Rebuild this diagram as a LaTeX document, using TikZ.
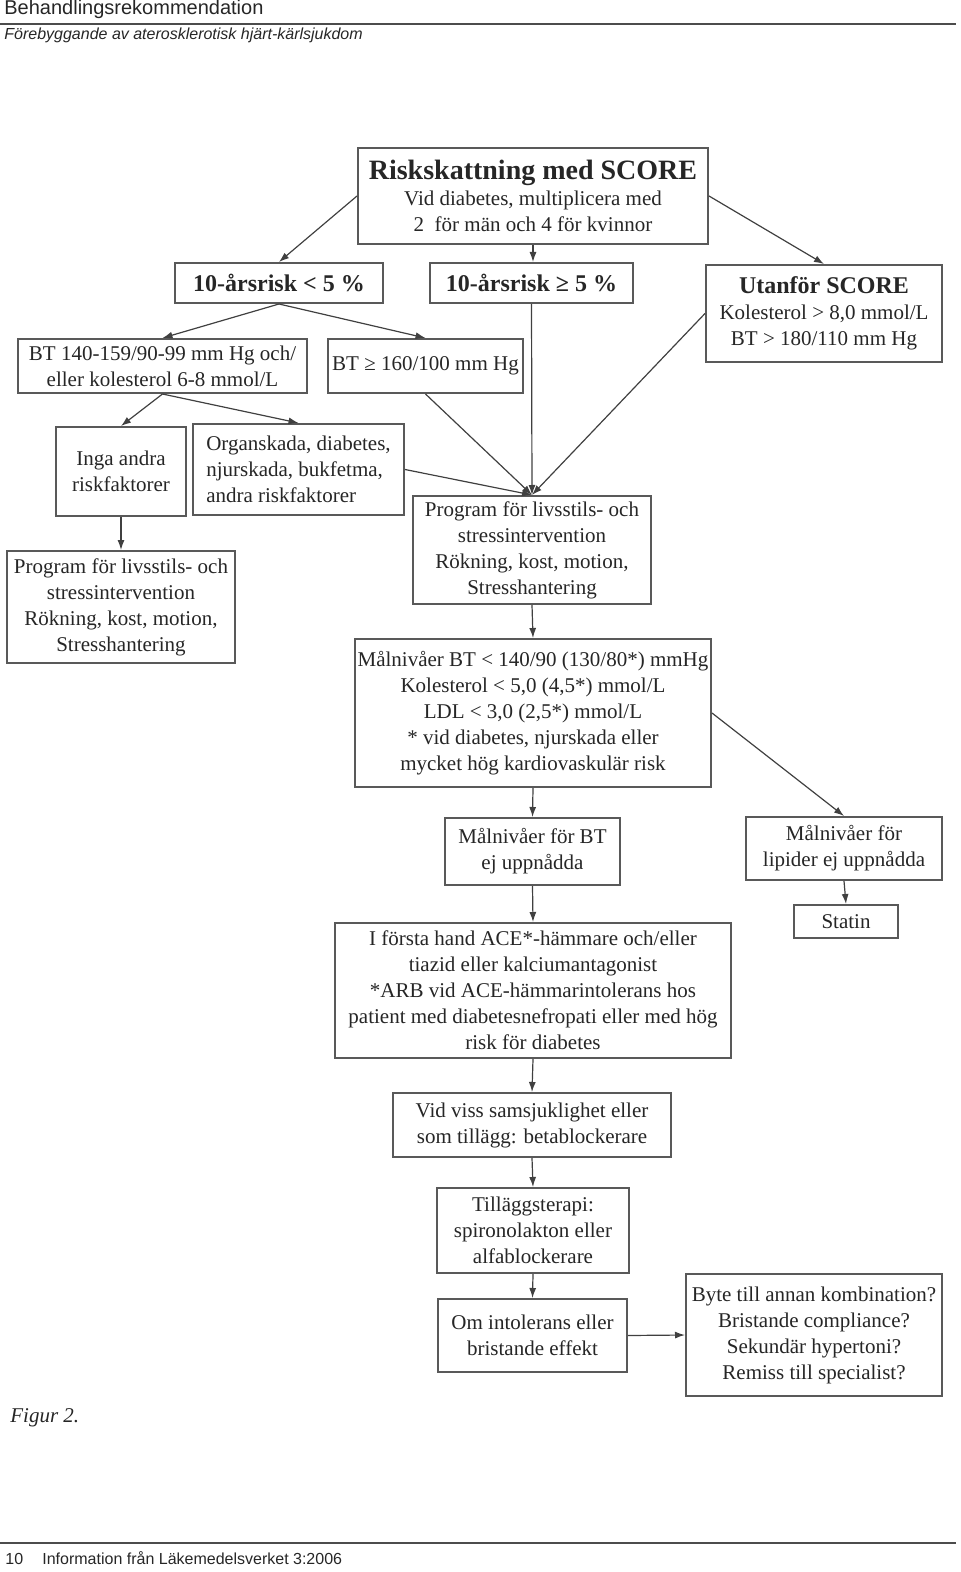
\documentclass[tikz,border=0pt]{standalone}
\usepackage{fontspec}
\setmainfont{Liberation Serif}
\newfontfamily\rubrikfont{Liberation Sans}
\usetikzlibrary{arrows.meta}

\begin{document}
\begin{tikzpicture}[x=0.5pt, y=-0.5pt,
  every node/.style={align=center, text=black!85, inner sep=1pt, font=\fontsize{10.5}{13}\selectfont},
  ruta/.style={rectangle, draw=black!65, line width=1pt, fill=white},
  fet/.style={font=\fontsize{12}{14}\selectfont\bfseries},
  pil/.style={-{Latex[length=5pt, width=3.5pt]}, draw=black!75, line width=0.6pt}
]
\useasboundingbox (0,0) rectangle (960,1572);

% Sidhuvud
\node[font=\rubrikfont\fontsize{10}{12}\selectfont, anchor=base west] (sidrubrik) at (2,15) {Behandlingsrekommendation};
\draw[black!70, line width=1pt] (0,24) -- (956,24);
\node[font=\rubrikfont\itshape\fontsize{8}{10}\selectfont, anchor=base west] (underrubrik) at (2,40) {Förebyggande av aterosklerotisk hjärt-kärlsjukdom};

% Riskskattning
\node[ruta, minimum width=175pt, minimum height=48pt] (score) at (533,196)
  {{\fontsize{14}{16}\selectfont\bfseries Riskskattning med SCORE}\\Vid diabetes, multiplicera med\\2\ \ för män och 4 för kvinnor};
\node[ruta, fet, minimum width=104pt, minimum height=20pt] (lagrisk) at (279,283) {10-årsrisk < 5 \%};
\node[ruta, fet, minimum width=101.5pt, minimum height=20pt] (hogrisk) at (531.5,283) {10-årsrisk ≥ 5 \%};
\node[ruta, minimum width=118pt, minimum height=48.5pt] (utanfor) at (824,313.5)
  {{\fontsize{12}{14}\selectfont\bfseries Utanför SCORE}\\Kolesterol > 8,0 mmol/L\\BT > 180/110 mm Hg};

% Vänster gren
\node[ruta, minimum width=144.5pt, minimum height=27pt] (bt140) at (162.5,366) {BT 140-159/90-99 mm Hg och/\\eller kolesterol 6-8 mmol/L};
\node[ruta, minimum width=97.5pt, minimum height=27pt] (bt160) at (425.5,366) {BT ≥ 160/100 mm Hg};
\node[ruta, minimum width=65pt, minimum height=44.5pt] (inga) at (121,471.5) {Inga andra\\riskfaktorer};
\node[ruta, align=left, minimum width=105.5pt, minimum height=45.5pt] (organ) at (298.5,469.5) {Organskada, diabetes,\\njurskada, bukfetma,\\andra riskfaktorer};
\node[ruta, minimum width=114pt, minimum height=56pt] (livsstilV) at (121,607) {Program för livsstils- och\\stressintervention\\Rökning, kost, motion,\\Stresshantering};
\node[ruta, minimum width=119pt, minimum height=54pt] (livsstilH) at (532,550) {Program för livsstils- och\\stressintervention\\Rökning, kost, motion,\\Stresshantering};

% Målnivåer och behandling
\node[ruta, minimum width=178pt, minimum height=74pt] (malniva) at (533,713)
  {Målnivåer BT < 140/90 (130/80*) mmHg\\Kolesterol < 5,0 (4,5*) mmol/L\\LDL < 3,0 (2,5*) mmol/L\\* vid diabetes, njurskada eller\\mycket hög kardiovaskulär risk};
\node[ruta, minimum width=87.5pt, minimum height=33.5pt] (btej) at (532.5,851.5) {Målnivåer för BT\\ej uppnådda};
\node[ruta, minimum width=98pt, minimum height=31.5pt] (lipidej) at (844,848.5) {Målnivåer för\\lipider ej uppnådda};
\node[ruta, minimum width=52pt, minimum height=16.5pt] (statin) at (846,921.5) {Statin};
\node[ruta, minimum width=198pt, minimum height=67.5pt] (ace) at (533,990.5)
  {I första hand ACE*-hämmare och/eller\\tiazid eller kalciumantagonist\\*ARB vid ACE-hämmarintolerans hos\\patient med diabetesnefropati eller med hög\\risk för diabetes};
\node[ruta, minimum width=139pt, minimum height=32pt] (betabl) at (532,1125) {Vid viss samsjuklighet eller\\som tillägg: betablockerare};
\node[ruta, minimum width=96pt, minimum height=42.5pt] (tillagg) at (533,1230.5) {Tilläggsterapi:\\spironolakton eller\\alfablockerare};
\node[ruta, minimum width=94.5pt, minimum height=36.5pt] (intol) at (532.5,1335.5) {Om intolerans eller\\bristande effekt};
\node[ruta, minimum width=128pt, minimum height=61pt] (byte) at (814,1335) {Byte till annan kombination?\\Bristande compliance?\\Sekundär hypertoni?\\Remiss till specialist?};

% Pilar
\draw[pil] (score.west) -- (lagrisk.north);
\draw[pil] (score.south) -- (score.south |- hogrisk.north);
\draw[pil] (score.east) -- (utanfor.north);
\draw[pil] (lagrisk.south) -- (bt140.north);
\draw[pil] (lagrisk.south) -- (bt160.north);
\draw[pil] (bt140.south) -- (inga.north);
\draw[pil] (bt140.south) -- (organ.north);
\draw[pil] (inga.south) -- (livsstilV.north);
\draw[pil] (hogrisk.south) -- (livsstilH.north);
\draw[pil] (bt160.south) -- (livsstilH.north);
\draw[pil] (organ.east) -- (livsstilH.north);
\draw[pil] (utanfor.west) -- (livsstilH.north);
\draw[pil] (livsstilH.south) -- (malniva.north);
\draw[pil] (malniva.south) -- (btej.north);
\draw[pil] (malniva.east) -- (lipidej.north);
\draw[pil] (lipidej.south) -- (statin.north);
\draw[pil] (btej.south) -- (ace.north);
\draw[pil] (ace.south) -- (betabl.north);
\draw[pil] (betabl.south) -- (tillagg.north);
\draw[pil] (tillagg.south) -- (intol.north);
\draw[pil] (intol.east) -- (byte.west);

% Figurtext och sidfot
\node[font=\itshape\fontsize{10.5}{12}\selectfont, anchor=base west] (figur) at (8,1422) {Figur 2.};
\draw[black!70, line width=1pt] (0,1543) -- (956,1543);
\node[font=\rubrikfont\fontsize{8}{10}\selectfont, anchor=base west] (sidnr) at (3,1564) {10};
\node[font=\rubrikfont\fontsize{8}{10}\selectfont, anchor=base west] (kalla) at (40,1564) {Information från Läkemedelsverket 3:2006};
\end{tikzpicture}
\end{document}
